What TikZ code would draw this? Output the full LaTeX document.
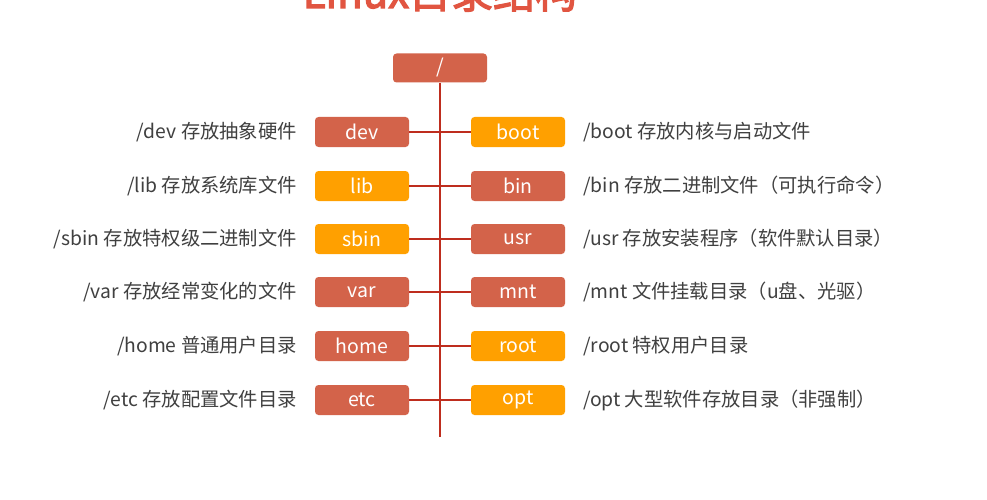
\documentclass[tikz,border=0pt]{standalone}
\usepackage{fontspec}
\setmainfont{Noto Sans CJK SC}
\newfontfamily\titlefont[FakeBold=3]{Noto Sans CJK SC}
\definecolor{rust}{RGB}{211,99,74}
\definecolor{amber}{RGB}{255,160,0}
\definecolor{trunk}{RGB}{190,45,30}
\definecolor{desc}{RGB}{64,64,64}
\definecolor{titlered}{RGB}{225,85,65}
\begin{document}
\begin{tikzpicture}[x=1pt,y=-1pt,
  dirbox/.style={rounded corners=3.5pt,minimum width=94pt,minimum height=30pt,
    text=white,font=\fontsize{19.5}{22}\selectfont,inner sep=0pt},
  rbox/.style={dirbox,fill=rust},
  obox/.style={dirbox,fill=amber},
  ldesc/.style={anchor=east,text=desc,font=\fontsize{19.3}{22}\selectfont,inner sep=0pt},
  rdesc/.style={anchor=west,text=desc,font=\fontsize{19.3}{22}\selectfont,inner sep=0pt},
  link/.style={draw=trunk,line width=1.6pt}]
\useasboundingbox (0,0) rectangle (987,500);
\fill[white] (0,0) rectangle (987,500);
\node[anchor=base,text=titlered,font=\titlefont\fontsize{42}{46}\selectfont,inner sep=0pt] (title) at (440,8) {Linux目录结构};
\node[rbox,minimum height=29pt] (slash) at (440,68) {/};
\coordinate (trunkend) at (440,437);
\draw[link] (slash.south) -- (trunkend);
% left
\node[rbox] (dev) at (362,132) {dev};
\node[obox] (lib) at (362,186) {lib};
\node[obox] (sbin) at (362,239) {sbin};
\node[rbox] (var) at (362,292) {var};
\node[rbox] (home) at (362,346) {home};
\node[rbox] (etc) at (362,400) {etc};
% right
\node[obox] (boot) at (518,132) {boot};
\node[rbox] (bin) at (518,186) {bin};
\node[rbox] (usr) at (518,239) {usr};
\node[rbox] (mnt) at (518,292) {mnt};
\node[obox] (root) at (518,346) {root};
\node[obox] (opt) at (518,400) {opt};
\foreach \a/\b in {dev/boot,lib/bin,sbin/usr,var/mnt,home/root,etc/opt}
  \draw[link] (\a.east) -- (\b.west);
% descriptions
\node[ldesc] (ddev) at (297,132) {/dev 存放抽象硬件};
\node[ldesc] (dlib) at (297,186) {/lib 存放系统库文件};
\node[ldesc] (dsbin) at (297,239) {/sbin 存放特权级二进制文件};
\node[ldesc] (dvar) at (297,292) {/var 存放经常变化的文件};
\node[ldesc] (dhome) at (297,346) {/home 普通用户目录};
\node[ldesc] (detc) at (297,400) {/etc 存放配置文件目录};
\node[rdesc] (dboot) at (583,132) {/boot 存放内核与启动文件};
\node[rdesc] (dbin) at (583,186) {/bin 存放二进制文件（可执行命令）};
\node[rdesc] (dusr) at (583,239) {/usr 存放安装程序（软件默认目录）};
\node[rdesc] (dmnt) at (583,292) {/mnt 文件挂载目录（u盘、光驱）};
\node[rdesc] (droot) at (583,346) {/root 特权用户目录};
\node[rdesc] (dopt) at (583,400) {/opt 大型软件存放目录（非强制）};
\end{tikzpicture}
\end{document}
